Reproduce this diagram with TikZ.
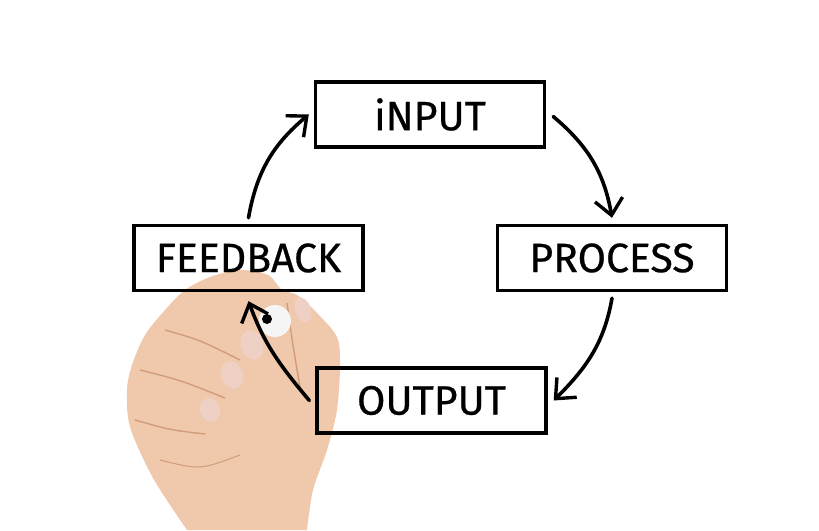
\documentclass[tikz,border=0pt]{standalone}
\usepackage{fontspec}
\setmainfont{Fira Sans}[FakeBold=0.6]
\usetikzlibrary{arrows.meta}

\definecolor{skin}{RGB}{240,200,172}
\definecolor{skindark}{RGB}{210,156,124}
\definecolor{nail}{RGB}{238,208,196}

\tikzset{
  box/.style={draw=black, line width=3.4pt, minimum width=229pt, minimum height=65pt,
    inner sep=0pt, font=\fontsize{41}{41}\selectfont},
  arr/.style={line width=3.6pt, line cap=round,
    -{Straight Barb[length=16pt,width=28pt,line width=3.4pt]}}
}

\begin{document}
\begin{tikzpicture}[x=1pt,y=1pt]
\useasboundingbox (0,0) rectangle (819,530);

% 手
\fill[skin] plot[smooth] coordinates {(187,0) (153,52) (130,103) (127,140) (132,165)
  (145,195) (165,220) (185,240) (210,253) (240,260) (268,255) (282,240) (297,235)
  (317,217) (337,193) (340,165) (337,120) (327,80) (313,40) (307,0)} -- cycle;
\draw[skindark, line width=1.4pt] (165,200) .. controls (200,190) .. (240,170); % 食指
\draw[skindark, line width=1.4pt] (140,160) .. controls (180,150) .. (225,132); % 中指
\draw[skindark, line width=1.4pt] (135,110) .. controls (170,100) .. (205,96); % 无名指
\draw[skindark, line width=1.4pt] (287,227) .. controls (292,190) .. (300,143); % 拇指
\draw[skindark, line width=1pt] (160,70) .. controls (200,60) .. (240,75); % 掌纹
\fill[nail] (252,185) ellipse[x radius=11, y radius=15, rotate=20];
\fill[nail] (232,155) ellipse[x radius=11, y radius=14, rotate=20];
\fill[nail] (210,120) ellipse[x radius=10, y radius=12, rotate=20];
\fill[nail] (303,220) ellipse[x radius=8, y radius=13, rotate=20];

% 笔
\fill[white!92!gray] (275,209) circle(16);
\fill[black] (267,211) circle(5);

% 方框
\node[box] (input) at (430,415.5) {iNPUT};
\node[box] (process) at (612,272) {PROCESS};
\node[box] (feedback) at (248.5,272) {FEEDBACK};
\node[box] (output) at (431.5,129.5) {OUTPUT};

% 箭头
\draw[arr] ([xshift=7pt,yshift=-2pt]input.east) to[out=-40,in=100] ([yshift=6pt]process.north);
\draw[arr] ([yshift=-6pt]process.south) to[out=-100,in=45] ([xshift=6pt]output.east);
\draw[arr] ([xshift=-6pt]output.west) to[out=130,in=-70] ([yshift=-9pt]feedback.south);
\draw[arr] ([yshift=6pt]feedback.north) to[out=80,in=-140] ([xshift=-5pt]input.west);

\end{tikzpicture}
\end{document}
